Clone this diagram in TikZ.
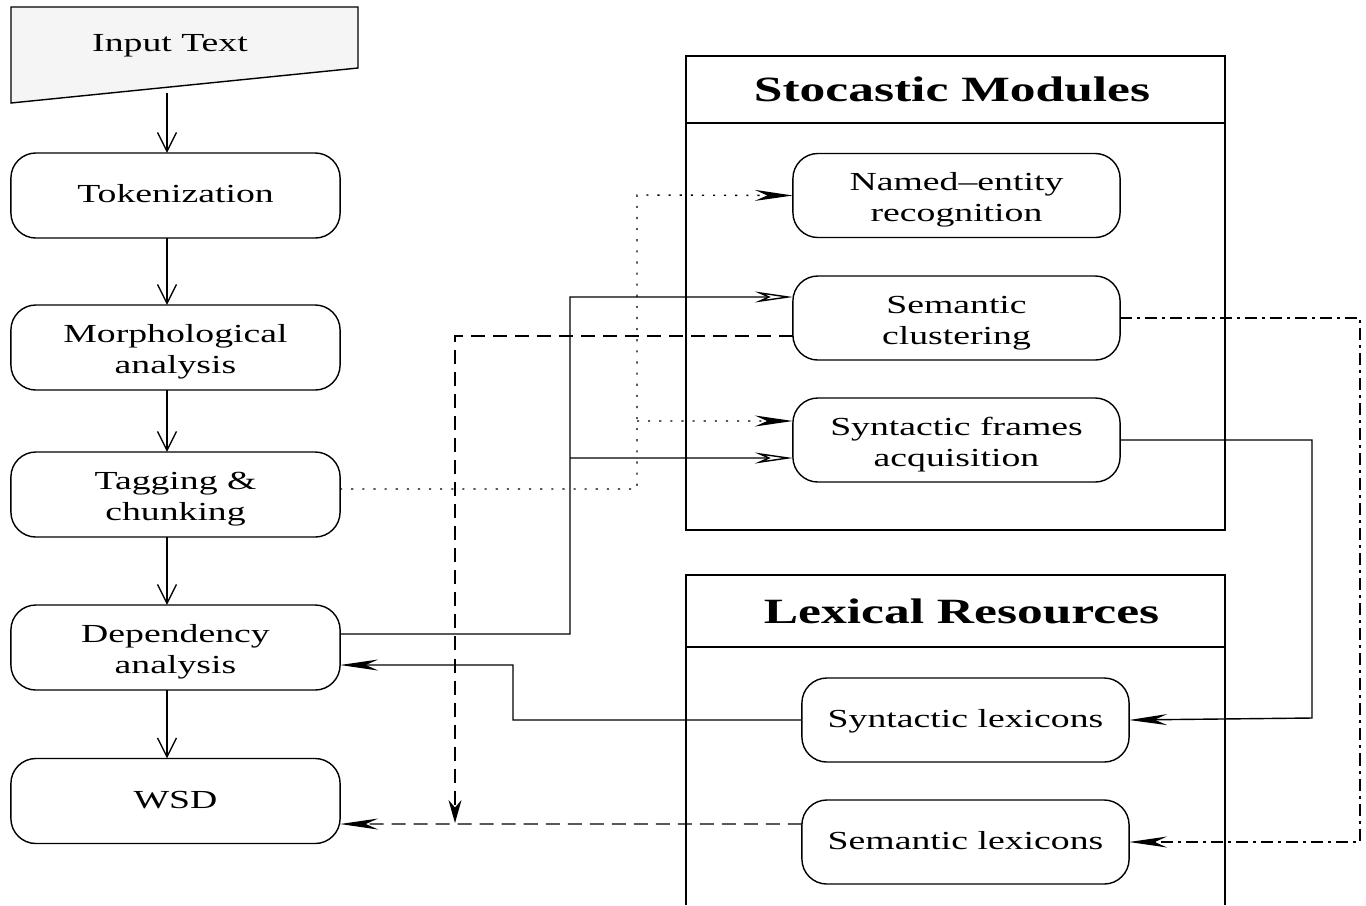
\documentclass[tikz,border=0pt]{standalone}
\usepackage{fontspec}
\usetikzlibrary{arrows.meta}
\newfontfamily\figfont[FakeStretch=1.45]{Liberation Serif}

\tikzset{
  stage/.style={draw,rounded corners=2.5mm,minimum width=3.29cm,minimum height=0.85cm,
    outer sep=0pt,align=center,font=\figfont\fontsize{7.4}{8.9}\selectfont,
    text height=5.6pt,text depth=1.6pt},
  twolines/.style={text height=16.6pt,inner ysep=1pt},
  module/.style={stage,minimum width=3.27cm,minimum height=0.84cm},
  title/.style={font=\figfont\bfseries\fontsize{10.1}{11}\selectfont},
  flow/.style={-{Straight Barb[length=1.9mm,width=1.9mm]}},
  tip/.style={-{Stealth[length=3.8mm,width=1.1mm]}},
  opentip/.style={-{Stealth[length=3.8mm,width=1.1mm,open]}},
  dotline/.style={dash pattern=on 0.6pt off 0.9mm},
  dashline/.style={dash pattern=on 1.4mm off 0.8mm},
  dashdotline/.style={dash pattern=on 1.2mm off 0.5mm on 0.3mm off 0.5mm}
}

\begin{document}
\begin{tikzpicture}[x=0.01cm,y=-0.01cm]
  \useasboundingbox (0,0) rectangle (1366,905);

  % input
  \draw[fill=gray!8] (11,7) -- (358,7) -- (358,68) -- (11,103) -- cycle;
  \node[font=\figfont\fontsize{7.4}{8.9}\selectfont] (input) at (170,46) {Input Text};
  \coordinate (inbot) at (167,93);

  % pipeline
  \node[stage] (tok) at (175.5,195.5) {Tokenization};
  \node[stage,twolines] (morph) at (175.5,347.5) {Morphological\\analysis};
  \node[stage,twolines] (tag) at (175.5,494.5) {Tagging \&\\chunking};
  \node[stage,twolines] (dep) at (175.5,647.5) {Dependency\\analysis};
  \node[stage] (wsd) at (175.5,801) {WSD};

  \draw[flow] (inbot) -- (inbot |- tok.north);
  \foreach \a/\b in {tok/morph,morph/tag,tag/dep,dep/wsd}
    \draw[flow] (\a.south -| inbot) -- (\b.north -| inbot);

  % stocastic modules
  \draw (686,56) rectangle (1225,530);
  \draw (686,123) -- (1225,123);
  \node[title] (stoc) at (952,89) {Stocastic Modules};
  \node[module,twolines] (ner) at (956.5,195.5) {Named–entity\\recognition};
  \node[module,twolines] (semclu) at (956.5,318) {Semantic\\clustering};
  \node[module,twolines] (synfr) at (956.5,440) {Syntactic frames\\acquisition};

  % lexical resources
  \draw (686,905) -- (686,575) -- (1225,575) -- (1225,905);
  \draw (686,647) -- (1225,647);
  \node[title] (lex) at (961.5,611) {Lexical Resources};
  \node[module] (synlex) at (965.5,720) {Syntactic lexicons};
  \node[module] (semlex) at (965.5,842) {Semantic lexicons};

  % connections
  \draw[dotline,tip] ([yshift=0.055cm]tag.east) -| (637,195) -- (ner.west);
  \coordinate (dotjoin) at (637,421);
  \draw[dotline,tip] (dotjoin) -- ([yshift=0.19cm]synfr.west);
  \draw[opentip] ([yshift=0.135cm]dep.east) -| (570,297) -- ([yshift=0.21cm]semclu.west);
  \coordinate (solidjoin) at (570,458);
  \draw[opentip] (solidjoin) -- ([yshift=-0.18cm]synfr.west);
  \draw[dashline,-{Stealth[length=2.3mm,width=1.3mm]}] ([yshift=-0.18cm]semclu.west) -| (455,823);
  \draw[dashline,tip] ([yshift=0.18cm]semlex.west) -- ([yshift=-0.23cm]wsd.east);
  \draw[tip] (synlex.west) -| (513,665) -- ([yshift=-0.175cm]dep.east);
  \draw[tip] (synfr.east) -| (1312,718) -- (synlex.east);
  \draw[dashdotline,tip] (semclu.east) -| (1360,842) -- (semlex.east);
\end{tikzpicture}
\end{document}
